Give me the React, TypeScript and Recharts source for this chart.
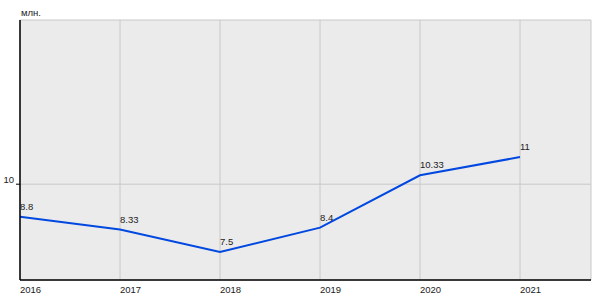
import React from "react";
import { LineChart, Line, XAxis, YAxis, CartesianGrid, LabelList } from "recharts";

const years = [2016, 2017, 2018, 2019, 2020, 2021];
const values = [8.8, 8.33, 7.5, 8.4, 10.33, 11];
const valueLabels = ["8.8", "8.33", "7.5", "8.4", "10.33", "11"];
const yTicks = [10];
const unitLabel = "млн.";

const data = years.map((y, i) => ({ year: y, value: values[i], label: valueLabels[i] }));

const FONT = "'Liberation Sans', Arial, sans-serif";

const XTick = (props: any) => {
  const { x, payload } = props;
  return (
    <text x={x} y={293} textAnchor="start" fontSize={9.5} fill="#222" fontFamily={FONT}>
      {payload.value}
    </text>
  );
};

const YTick = (props: any) => {
  const { y, payload } = props;
  return (
    <text x={14} y={y - 1} textAnchor="end" fontSize={9.5} fill="#222" fontFamily={FONT}>
      {payload.value}
    </text>
  );
};

const ValueLabel = (props: any) => {
  const { x, y, value } = props;
  return (
    <text x={x} y={y - 7} textAnchor="start" fontSize={9.5} fill="#222" fontFamily={FONT}>
      {value}
    </text>
  );
};

export default function App() {
  return (
    <div style={{ position: "absolute", left: 0, top: 0, width: 600, height: 300, background: "#fff" }}>
      <LineChart width={600} height={300} data={data} margin={{ top: 20, right: 9, bottom: 0, left: 0 }}>
        <CartesianGrid
          fill="#ebebeb"
          stroke="#c8c8c8"
          strokeWidth={1}
        />
        <XAxis
          dataKey="year"
          type="number"
          domain={[2016, 2021.71]}
          ticks={years}
          height={20}
          axisLine={{ stroke: "#000", strokeWidth: 1.5 }}
          tickLine={false}
          tick={<XTick />}
          allowDataOverflow
        />
        <YAxis
          type="number"
          domain={[6.47, 16.05]}
          ticks={yTicks}
          width={20}
          axisLine={{ stroke: "#000", strokeWidth: 1.5 }}
          tickLine={{ stroke: "#000" }}
          tickSize={4}
          tick={<YTick />}
          allowDataOverflow
        />
        <Line
          type="linear"
          dataKey="value"
          stroke="#0048e0"
          strokeWidth={2}
          dot={false}
          isAnimationActive={false}
        >
          <LabelList dataKey="label" content={<ValueLabel />} />
        </Line>
        <text x={21} y={16} fontSize={9.5} fill="#222" fontFamily={FONT}>
          {unitLabel}
        </text>
      </LineChart>
    </div>
  );
}
